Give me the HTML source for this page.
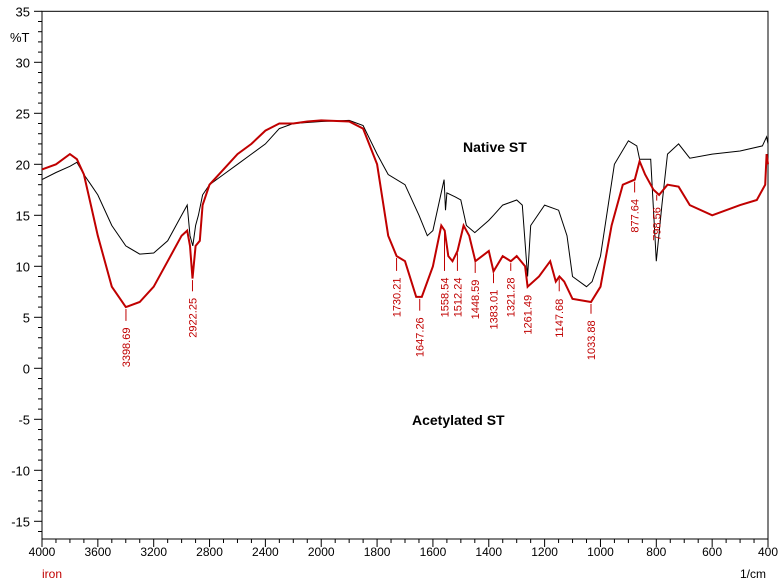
<!DOCTYPE html>
<html><head><meta charset="utf-8"><style>
html,body{margin:0;padding:0;background:#fff;}
svg{display:block;font-family:"Liberation Sans",sans-serif;}
</style></head><body>
<svg id="chart" width="781" height="580"></svg>
<script>
const xTicks=[4000,3600,3200,2800,2400,2000,1800,1600,1400,1200,1000,800,600,400];
const yTicks=[35,30,25,20,15,10,5,0,-5,-10,-15];
const nativeWn=[4000,3900,3800,3750,3700,3650,3600,3500,3400,3300,3200,3100,3000,2960,2940,2920,2900,2880,2850,2800,2700,2600,2500,2400,2300,2200,2000,1900,1850,1800,1760,1700,1650,1620,1600,1580,1560,1555,1550,1520,1500,1480,1450,1400,1383,1350,1300,1280,1261,1250,1200,1150,1120,1100,1050,1030,1000,950,900,870,860,820,800,780,760,720,680,600,500,420,405,400];
const nativeT=[18.5,19.2,19.8,20.2,19,18,17,14,12,11.2,11.3,12.5,15,16,13,12,14,15,17,18,19,20,21,22,23.5,24,24.2,24.3,23.8,21,19,18,15,13,13.5,16,18.5,15.5,17.2,16.8,16.5,14,13.3,14.5,15,16,16.5,16,9,14,16,15.5,13,9,8,8.5,11,20,22.3,21.8,20.5,20.5,10.5,16,21,22,20.6,21,21.3,21.8,22.7,22];
const acetWn=[4000,3900,3800,3750,3700,3650,3600,3500,3400,3300,3200,3100,3000,2960,2940,2922,2900,2870,2850,2800,2700,2600,2500,2400,2300,2200,2100,2000,1900,1850,1800,1760,1730,1700,1660,1640,1600,1570,1558,1545,1530,1512,1490,1470,1448,1400,1383,1350,1321,1300,1270,1261,1220,1180,1160,1147,1130,1100,1034,1000,960,920,877,860,840,810,790,760,720,680,600,500,440,410,405,400];
const acetT=[19.5,20,21,20.5,19,16,13,8,6,6.5,8,10.5,13,13.5,12,8.8,12,12.5,16,18,19.5,21,22,23.3,24,24,24.2,24.3,24.2,23.5,20,13,11,10.5,7,7,10,14,13.5,11,10.5,11.5,14,13,10.5,11.5,9.5,11,10.5,11,10,8,9,10.5,8.5,9,8.5,6.8,6.5,8,14,18,18.5,20.3,19,17.5,17,18,17.8,16,15,16,16.5,18,21,20];
const peakLabels=["3398.69","2922.25","1730.21","1647.26","1558.54","1512.24","1448.59","1383.01","1321.28","1261.49","1147.68","1033.88","877.64","798.56"];
const peakWn=[3398.69,2922.25,1730.21,1647.26,1558.54,1512.24,1448.59,1383.01,1321.28,1261.49,1147.68,1033.88,877.64,798.56];
const peakTextT=[0.1,3.0,5.0,1.1,5.0,5.0,4.8,3.8,5.0,3.3,3.0,0.8,13.3,12.5];

const L=42,R=768,T0=11.3,PY=10.2,B=539;
const step=(R-L)/13;
function xs(w){
  if(w>=2000) return L+(4000-w)/400*step;
  return L+5*step+(2000-w)/200*step;
}
function ys(t){return T0+(35-t)*PY;}
const svg=document.getElementById('chart');
const NS='http://www.w3.org/2000/svg';
function el(tag,attrs,parent){const e=document.createElementNS(NS,tag);for(const k in attrs)e.setAttribute(k,attrs[k]);(parent||svg).appendChild(e);return e;}

const frame=el('rect',{x:L,y:T0,width:R-L,height:B-T0,fill:'none',stroke:'#000','stroke-width':1});



const yAxis=el('g',{});


for(let v=35;v>=-16.5;v-=1){
  const y=ys(v);
  const major=(Math.round(v)%5===0);
  el('line',{x1:L-(major?8:4),x2:L,y1:y,y2:y,stroke:'#000'},yAxis);
}
yTicks.forEach(v=>{
  const t=el('text',{x:L-12,y:ys(v)+5,'text-anchor':'end','font-size':13,fill:'#000'},yAxis);
  t.textContent=v;
  
  
});
const yl=el('text',{x:10,y:42,'font-size':13,fill:'#000'});
yl.textContent='%T';



const xAxis=el('g',{});


for(let i=0;i<=13*4;i++){
  const x=L+i*step/4;
  const major=i%4===0;
  el('line',{x1:x,x2:x,y1:B,y2:B+(major?8:4),stroke:'#000'},xAxis);
}
xTicks.forEach(v=>{
  const t=el('text',{x:xs(v),y:B+17,'text-anchor':'middle','font-size':12,fill:'#000'},xAxis);
  t.textContent=v;
  
  
});
const iron=el('text',{x:42,y:578,'font-size':12,fill:'#c00000'});
iron.textContent='iron';


const xl=el('text',{x:740,y:578,'font-size':12,fill:'#000'});
xl.textContent='1/cm';



function path(wn,t){return wn.map((w,i)=>(i?'L':'M')+xs(w).toFixed(1)+','+ys(t[i]).toFixed(1)).join(' ');}
const nat=el('path',{d:path(nativeWn,nativeT),fill:'none',stroke:'#000','stroke-width':1});


const ac=el('path',{d:path(acetWn,acetT),fill:'none',stroke:'#c00000','stroke-width':2});



function interp(w){
  for(let i=0;i<acetWn.length-1;i++){
    if(w<=acetWn[i]&&w>=acetWn[i+1]){const f=(acetWn[i]-w)/(acetWn[i]-acetWn[i+1]);return acetT[i]+f*(acetT[i+1]-acetT[i]);}
  }
  return acetT[acetT.length-1];
}
peakWn.forEach((w,i)=>{
  const g=el('g',{});
  
  
  const x=xs(w),yc=ys(interp(w))+2,yt=ys(peakTextT[i]);
  const tl=peakLabels[i].length*6.2;
  el('line',{x1:x,x2:x,y1:yc,y2:yt-tl-3,stroke:'#c00000'},g);
  const t=el('text',{x:x+4,y:yt,'font-size':11,fill:'#c00000',transform:`rotate(-90 ${x+4} ${yt})`},g);
  t.textContent=peakLabels[i];
});

const n1=el('text',{x:463,y:152,'font-size':14,'font-weight':'bold',fill:'#000'});
n1.textContent='Native ST';


const n2=el('text',{x:412,y:425,'font-size':14,'font-weight':'bold',fill:'#000'});
n2.textContent='Acetylated ST';


</script>
</body></html>
